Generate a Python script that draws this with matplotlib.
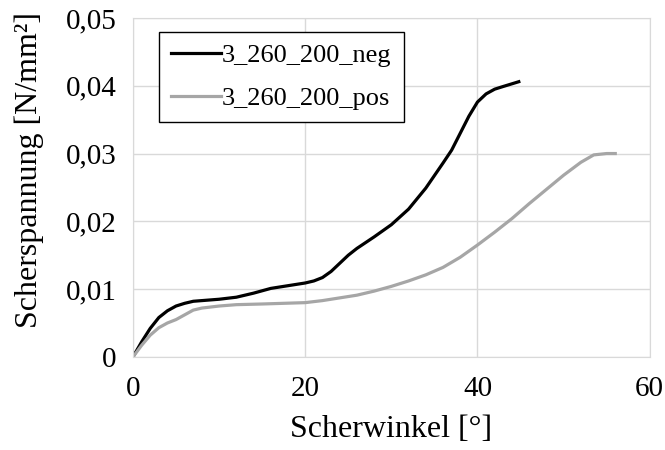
import numpy as np
import matplotlib.pyplot as plt
from matplotlib.ticker import FuncFormatter

plt.rcParams['font.family'] = ['Liberation Serif', 'DejaVu Serif']

# Scherwinkel [°] / Scherspannung [N/mm²]
x_neg = [0, 1, 2, 3, 4, 5, 6, 7, 8, 10, 12, 14, 16, 18, 20, 21, 22, 23, 24, 25, 26, 28, 30, 32,
         34, 36, 37, 38, 39, 40, 41, 42, 43, 44.8]
y_neg = [0, 0.0022, 0.0042, 0.0058, 0.0068, 0.0075, 0.0079, 0.0082, 0.0083, 0.0085, 0.0088, 0.0094,
         0.0101, 0.0105, 0.0109, 0.0112, 0.0117, 0.0126, 0.0138, 0.0150, 0.0160, 0.0177, 0.0195,
         0.0218, 0.0249, 0.0286, 0.0305, 0.0330, 0.0355, 0.0376, 0.0388, 0.0395, 0.0399, 0.0406]
x_pos = [0, 1, 2, 3, 4, 5, 6, 7, 8, 10, 12, 15, 20, 22, 24, 26, 28, 30, 32, 34, 36, 38, 40, 42,
         44, 46, 48, 50, 52, 53.5, 55, 56]
y_pos = [0, 0.0017, 0.0032, 0.0043, 0.0050, 0.0055, 0.0062, 0.0069, 0.0072, 0.0075, 0.0077, 0.0078,
         0.0080, 0.0083, 0.0087, 0.0091, 0.0097, 0.0104, 0.0112, 0.0121, 0.0132, 0.0147, 0.0165,
         0.0184, 0.0204, 0.0226, 0.0247, 0.0268, 0.0287, 0.0298, 0.0300, 0.0300]

fig = plt.figure(figsize=(6.65, 4.5), dpi=100)
ax = fig.add_axes([0.2, 0.207, 0.777, 0.753])

ax.plot(x_neg, y_neg, color='black', lw=2.3, label='3_260_200_neg', solid_joinstyle='round')
ax.plot(x_pos, y_pos, color='#a6a6a6', lw=2.3, label='3_260_200_pos', solid_joinstyle='round')

ax.set_xlim(0, 60)
ax.set_ylim(0, 0.05)
ax.set_xticks([0, 20, 40, 60])
ax.set_yticks([0, 0.01, 0.02, 0.03, 0.04, 0.05])
ax.yaxis.set_major_formatter(FuncFormatter(lambda v, p: '0' if v == 0 else f'{v:.2f}'.replace('.', ',')))
ax.grid(True, color='#d9d9d9', lw=1)
ax.set_axisbelow(True)
for s in ax.spines.values():
    s.set_color('#d9d9d9')
ax.tick_params(length=0, labelsize=21)
ax.tick_params(axis='y', pad=12)
ax.tick_params(axis='x', pad=14)

ax.set_xlabel('Scherwinkel [°]', fontsize=23, labelpad=9)
ax.set_ylabel('Scherspannung [N/mm²]', fontsize=23)
ax.yaxis.set_label_coords(-0.172, 0.55)

leg = ax.legend(loc='upper left', bbox_to_anchor=(0.05, 0.96), fontsize=19, fancybox=False,
                framealpha=1, edgecolor='black', handlelength=1.9, handletextpad=0.05,
                borderpad=0.45, labelspacing=0.75, borderaxespad=0)
leg.get_frame().set_linewidth(1)

fig.savefig('out.png', dpi=100)
